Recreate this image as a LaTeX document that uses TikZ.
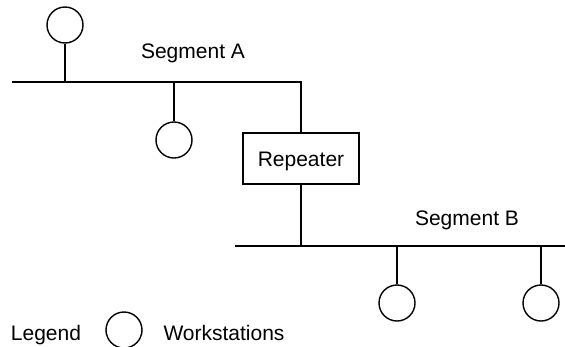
\documentclass[tikz,border=0pt]{standalone}
\usepackage{fontspec}
\setmainfont{Liberation Sans}
\begin{document}
\begin{tikzpicture}[x=1pt,y=-1pt,line width=1.4pt,
  ws/.style={circle,draw,minimum size=36pt,inner sep=0pt},
  lbl/.style={font=\fontsize{21}{24}\selectfont,anchor=base,inner sep=0pt},
  repbox/.style={draw,minimum width=116pt,minimum height=51pt,inner sep=0pt,
    font=\fontsize{21}{24}\selectfont,text height=15pt,text depth=0pt}]
\useasboundingbox (0,0) rectangle (565,346);
\clip (0,0) rectangle (565,346);
% bus coordinates
\coordinate (a1) at (12,82);
\coordinate (a2) at (301,82);
\coordinate (b0) at (301,246);
\coordinate (b1) at (235,246);
\coordinate (b2) at (565,246);
% repeater
\node[repbox] (rep) at (301,158.5) {Repeater};
% workstations
\node[ws] (w1) at (65,25) {};
\node[ws] (w2) at (174,140) {};
\node[ws] (w3) at (397,303) {};
\node[ws] (w4) at (541,303) {};
\node[ws] (lg) at (124,330) {};
% segments
\draw (a1) -- (a2) -- (rep.north);
\draw (rep.south) -- (b0);
\draw (b1) -- (b2);
% drops
\draw (w1.south) -- (w1.south |- a1);
\draw (w2.north) -- (w2.north |- a1);
\draw (w3.north) -- (w3.north |- b1);
\draw (w4.north) -- (w4.north |- b1);
% labels
\node[lbl] (la) at (193,58) {Segment A};
\node[lbl] (lb) at (467,225) {Segment B};
\node[lbl] (leg) at (46,340) {Legend};
\node[lbl] (wst) at (224,340) {Workstations};
\end{tikzpicture}
\end{document}
